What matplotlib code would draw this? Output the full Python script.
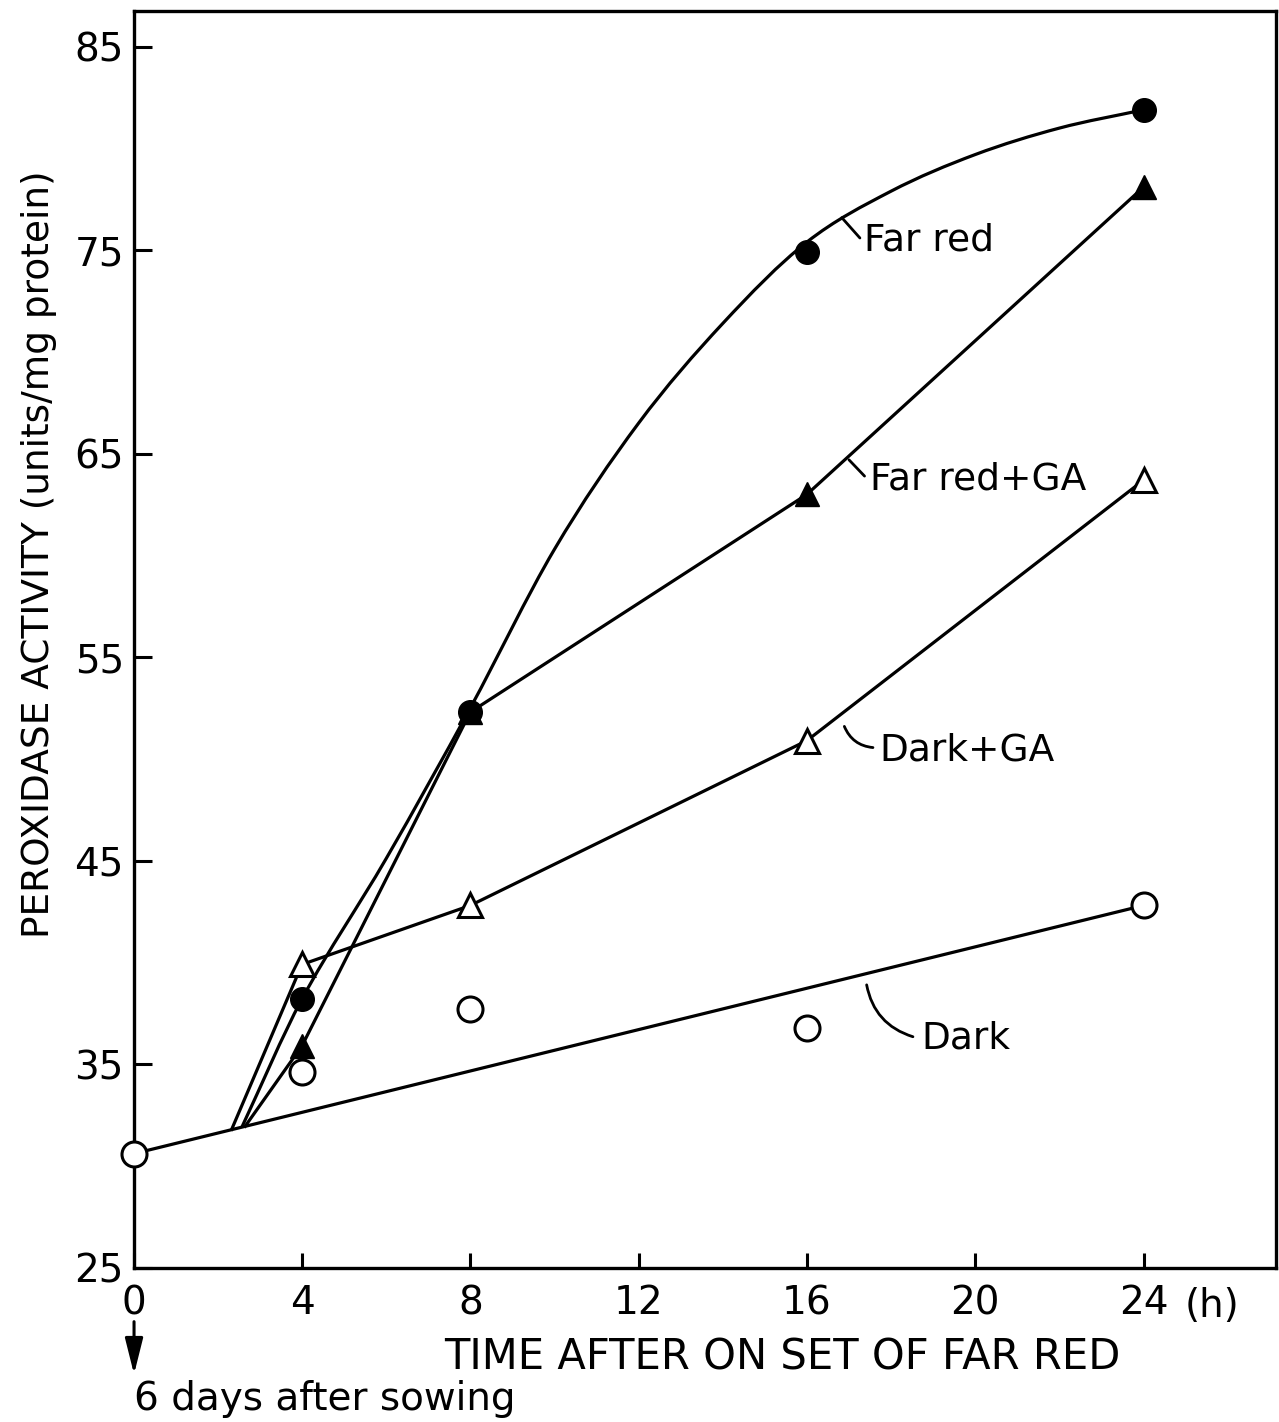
import numpy as np
import matplotlib
matplotlib.use("Agg")
import matplotlib.pyplot as plt
from matplotlib.path import Path
from matplotlib.patches import PathPatch, FancyArrowPatch

plt.rcParams['font.family'] = ['DejaVu Sans']

# data (hours, units/mg protein)
hours = [4, 8, 16, 24]

far_red = [38.2, 52.3, 74.9, 81.9]
far_red_ga = [35.9, 52.3, 63.0, 78.1]
dark_ga = [39.9, 42.8, 50.9, 63.7]

dark_x = [0, 4, 8, 16, 24]
dark = [30.6, 34.6, 37.7, 36.8, 42.8]
dark_fit_x = [0, 24]
dark_fit = [30.6, 42.8]

# hand drawn smooth curve of the far red series
far_red_curve_x = [2.57, 4, 6, 8, 10, 12, 14, 16, 18, 20, 22, 24]
far_red_curve_y = [31.9, 38.2, 45.1, 52.5, 60.3, 66.5, 71.4, 75.4, 77.9,
                   79.7, 81.0, 81.9]

# straight lines start where they leave the dark line
far_red_ga_line_x = [2.65, 4, 8, 16, 24]
far_red_ga_line_y = [31.95, 35.9, 52.3, 63.0, 78.1]
dark_ga_line_x = [2.33, 4, 8, 16, 24]
dark_ga_line_y = [31.8, 39.9, 42.8, 50.9, 63.7]

xticks = [0, 4, 8, 12, 16, 20, 24]
yticks = [25, 35, 45, 55, 65, 75, 85]


def smooth_path(xs, ys):
    # cubic Hermite through the nodes, drawn as bezier segments
    x = np.asarray(xs, float)
    y = np.asarray(ys, float)
    n = len(x)
    m = np.empty(n)
    m[0] = (y[1] - y[0]) / (x[1] - x[0])
    m[-1] = (y[-1] - y[-2]) / (x[-1] - x[-2])
    m[1:-1] = (y[2:] - y[:-2]) / (x[2:] - x[:-2])
    verts = [(x[0], y[0])]
    codes = [Path.MOVETO]
    for i in range(n - 1):
        h = x[i + 1] - x[i]
        verts += [(x[i] + h / 3., y[i] + m[i] * h / 3.),
                  (x[i + 1] - h / 3., y[i + 1] - m[i + 1] * h / 3.),
                  (x[i + 1], y[i + 1])]
        codes += [Path.CURVE4] * 3
    return Path(verts, codes)


fig = plt.figure(figsize=(12.79, 14.22), dpi=100)
ax = fig.add_axes([0.1045, 0.1085, 0.8932, 0.8837])

lw = 2.3
ax.plot(dark_fit_x, dark_fit, color='black', lw=lw, zorder=2)
ax.add_patch(PathPatch(smooth_path(far_red_curve_x, far_red_curve_y),
                       facecolor='none', edgecolor='black', lw=lw, zorder=2))
ax.plot(far_red_ga_line_x, far_red_ga_line_y, color='black', lw=lw, zorder=2)
ax.plot(dark_ga_line_x, dark_ga_line_y, color='black', lw=lw, zorder=2)

ax.plot(hours, far_red, 'o', ms=17, color='black', zorder=4)
ax.plot(hours, far_red_ga, '^', ms=17, color='black', zorder=4)
ax.plot(hours, dark_ga, '^', ms=17, mfc='white', mec='black', mew=2.2, zorder=4)
ax.plot(dark_x, dark, 'o', ms=18, mfc='white', mec='black', mew=2.2, zorder=4,
        clip_on=False)

# curve labels with short leader strokes
fs = 27
lead = dict(arrowstyle='-', lw=2, color='black', shrinkA=0, shrinkB=0)
ax.annotate('', xy=(16.83, 76.6), xytext=(17.26, 75.6), arrowprops=lead)
ax.text(17.35, 75.5, 'Far red', fontsize=fs, va='center', ha='left')
ax.annotate('', xy=(17.0, 64.7), xytext=(17.37, 63.9), arrowprops=lead)
ax.text(17.5, 63.75, 'Far red+GA', fontsize=fs, va='center', ha='left')
ax.annotate('', xy=(16.89, 51.6), xytext=(17.57, 50.56),
            arrowprops=dict(lead, connectionstyle='arc3,rad=-0.3'))
ax.text(17.72, 50.4, 'Dark+GA', fontsize=fs, va='center', ha='left')
ax.annotate('', xy=(17.42, 38.9), xytext=(18.52, 36.35),
            arrowprops=dict(lead, connectionstyle='arc3,rad=-0.3'))
ax.text(18.72, 36.25, 'Dark', fontsize=fs, va='center', ha='left')

ax.set_xlim(0, 27.15)
ax.set_ylim(25, 86.75)
ax.set_xticks(xticks)
ax.set_xticklabels([str(t) for t in xticks])
ax.set_yticks(yticks)
ax.tick_params(axis='y', direction='in', length=13, width=2.2, labelsize=28, pad=7)
ax.tick_params(axis='x', direction='in', length=11, width=2.2, labelsize=28, pad=12)
for s in ['top', 'bottom', 'left', 'right']:
    ax.spines[s].set_linewidth(2.4)

ax.set_xlabel('TIME AFTER ON SET OF FAR RED', fontsize=30)
ax.xaxis.set_label_coords(0.568, -0.055)
ax.set_ylabel('PEROXIDASE ACTIVITY (units/mg protein)', fontsize=27)
ax.yaxis.set_label_coords(-0.067, 0.568)

fig.text(0.9476, 0.0816, '(h)', fontsize=28, ha='center', va='center')
fig.patches.append(FancyArrowPatch(
    (0.1048, 0.0725), (0.1048, 0.0316), transform=fig.transFigure,
    arrowstyle='-|>,head_length=2.2,head_width=0.55', lw=2.2, color='black',
    mutation_scale=10))
fig.text(0.1048, 0.0165, '6 days after sowing', fontsize=28, ha='left', va='center')

fig.savefig('out.png', dpi=100)
